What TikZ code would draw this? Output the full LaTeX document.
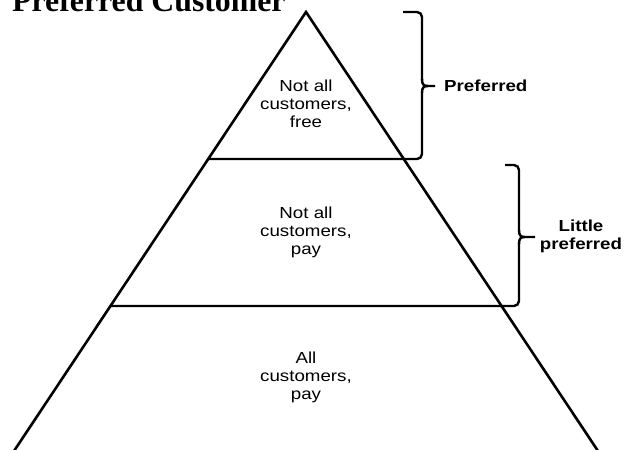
\documentclass[tikz,border=0pt]{standalone}
\usepackage{fontspec}
\setmainfont{Liberation Sans}[FakeStretch=1.17]
\newfontfamily\titlefont{Liberation Serif}
\begin{document}
\begin{tikzpicture}[x=1pt,y=-1pt,
  edge/.style={line width=2.6pt,line join=miter},
  bracket/.style={line width=2.4pt,rounded corners=5pt},
  tier/.style={align=center,font=\fontsize{16}{18}\selectfont,inner sep=0pt},
  tag/.style={align=center,font=\fontsize{16}{18}\selectfont\bfseries,inner sep=0pt}]
  \useasboundingbox (0,0) rectangle (633,450);
  \clip (0,0) rectangle (633,450);

  % heading, partly above the page edge
  \node[anchor=base west,inner sep=0pt,font=\titlefont\fontsize{31.8}{32}\selectfont\bfseries]
    (heading) at (12,11) {Preferred Customer};

  % pyramid outline
  \coordinate (apex) at (306,12);
  \coordinate (baseL) at (12,454);
  \coordinate (baseR) at (600,454);
  \coordinate (cutAL) at (208,159);
  \coordinate (cutBL) at (111,306);
  \draw[edge] (baseL) -- (apex) -- (baseR);

  % upper cut line running into the first bracket
  \coordinate (brAtop) at (403,12);
  \coordinate (brAtip) at (435,86);
  \draw[bracket] (cutAL) -- (422,159) -- (422,92);
  \draw[bracket] (brAtop) -- (422,12) -- (422,80);
  \draw[line width=2.4pt] (422,79) .. controls (422,85) and (424,86) .. (428,86) -- (brAtip);
  \draw[line width=2.4pt] (422,93) .. controls (422,87) and (424,86) .. (428,86);

  % lower cut line running into the second bracket
  \coordinate (brBtop) at (505,165);
  \coordinate (brBtip) at (535,237);
  \draw[bracket] (cutBL) -- (519,306) -- (519,243);
  \draw[bracket] (brBtop) -- (519,165) -- (519,231);
  \draw[line width=2.4pt] (519,230) .. controls (519,236) and (521,237) .. (525,237) -- (brBtip);
  \draw[line width=2.4pt] (519,244) .. controls (519,238) and (521,237) .. (525,237);

  % tier texts
  \node[tier] (tierTop) at (306,104) {Not all\\customers,\\free};
  \node[tier] (tierMid) at (306,232) {Not all\\customers,\\pay};
  \node[tier] (tierLow) at (306,377) {All\\customers,\\pay};

  % bracket labels
  \node[tag,anchor=west] (pref) at (brAtip) {\hspace{9pt}Preferred};
  \node[tag] (little) at (581,236) {Little\\preferred};
\end{tikzpicture}
\end{document}
